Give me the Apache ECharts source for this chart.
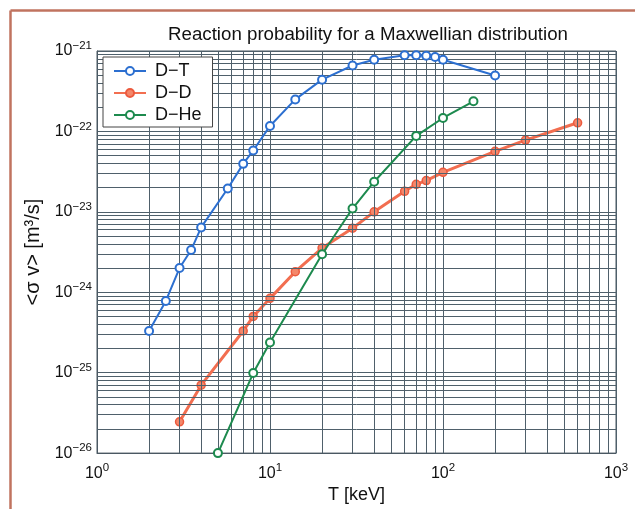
<!DOCTYPE html>
<html><head><meta charset="utf-8">
<script src="https://cdn.jsdelivr.net/npm/echarts@6/dist/echarts.min.js"></script>
<style>html,body{margin:0;padding:0;background:#fff}#c{width:635px;height:509px}</style>
</head><body><div id="c"></div>
<script>
// ---- data ----
const dtT = [2, 2.5, 3, 3.5, 4, 5.7, 7, 8, 10, 14, 20, 30, 40, 60, 70, 80, 90, 100, 200];
const dtV = [3.3e-25, 7.8e-25, 2.0e-24, 3.35e-24, 6.4e-24, 1.95e-23, 3.95e-23, 5.8e-23, 1.17e-22, 2.5e-22, 4.4e-22, 6.6e-22, 7.8e-22, 8.85e-22, 8.85e-22, 8.75e-22, 8.4e-22, 7.8e-22, 4.95e-22];
const ddT = [3, 4, 7, 8, 10, 14, 20, 30, 40, 60, 70, 80, 100, 200, 300, 600];
const ddV = [2.45e-26, 7.0e-26, 3.3e-25, 5.0e-25, 8.4e-25, 1.8e-24, 3.55e-24, 6.25e-24, 1.0e-23, 1.8e-23, 2.2e-23, 2.45e-23, 3.1e-23, 5.65e-23, 7.8e-23, 1.28e-22];
const dheT = [5, 8, 10, 20, 30, 40, 70, 100, 150];
const dheV = [1.0e-26, 9.9e-26, 2.37e-25, 2.97e-24, 1.1e-23, 2.37e-23, 8.8e-23, 1.47e-22, 2.37e-22];
const seriesNames = ['D\u2212T', 'D\u2212D', 'D\u2212He'];
const xMin = 1, xMax = 1000, yMinExp = -26, yMaxExp = -21;
const titleText = 'Reaction probability for a Maxwellian distribution';
const xName = 'T [keV]';
const yName = '<\u03c3 v> [m\u00b3/s]';

// The y axis is plotted in units of 10^-26 m^3/s (ECharts rounds tiny values to 0)
const yUnitExp = yMinExp;
const toUnit = v => v * Math.pow(10, -yUnitExp);

// minor grid values (2..9 in every decade)
const minorX = [];
for (let d = 0; d < 3; d++) for (let k = 2; k <= 9; k++) minorX.push(k * Math.pow(10, d));
const minorY = [];
for (let d = 0; d < yMaxExp - yMinExp; d++) for (let k = 2; k <= 9; k++) minorY.push(k * Math.pow(10, d));

const zip = (a, b) => a.map((v, i) => [v, toUnit(b[i])]);
const gridColor = '#4f606b';

function expLabelOff(off) {
  return function (v) {
    const e = Math.round(Math.log10(v)) + off;
    return '{b|10}{s|' + (e < 0 ? '\u2212' + (-e) : e) + '}';
  };
}
const richLab = {
  b: { fontSize: 16, lineHeight: 22, color: '#111', fontFamily: 'Liberation Sans' },
  s: { fontSize: 11.5, lineHeight: 11, verticalAlign: 'top', color: '#111', fontFamily: 'Liberation Sans' }
};

const chart = echarts.init(document.getElementById('c'), null, { renderer: 'canvas' });
chart.setOption({
  animation: false,
  backgroundColor: '#fff',
  textStyle: { fontFamily: 'Liberation Sans' },
  title: {
    text: titleText, left: 363, top: 20, textAlign: 'center',
    textStyle: { fontSize: 18.7, fontWeight: 'normal', color: '#111' }
  },
  grid: { left: 97, top: 51, right: 19, bottom: 48, show: true, borderColor: '#4a5862', borderWidth: 1 },
  legend: {
    data: seriesNames, orient: 'vertical', left: 103, top: 57, z: 30,
    padding: [5, 11, 3, 10], itemGap: 4, itemWidth: 32, itemHeight: 10,
    backgroundColor: '#fff', borderColor: '#444', borderWidth: 1,
    textStyle: { fontSize: 18, color: '#111', lineHeight: 18, padding: [0, 0, 0, 4] }
  },
  xAxis: {
    type: 'log', logBase: 10, min: xMin, max: xMax,
    name: xName, nameLocation: 'middle', nameGap: 30,
    nameTextStyle: { fontSize: 18, color: '#111' },
    axisLine: { show: true, lineStyle: { color: '#4a5862' } },
    axisTick: { show: false },
    axisLabel: { margin: 9, formatter: expLabelOff(0), rich: richLab },
    splitLine: { show: true, lineStyle: { color: gridColor, width: 1 } }
  },
  yAxis: {
    type: 'log', logBase: 10, min: 1, max: Math.pow(10, yMaxExp - yMinExp),
    name: yName, nameLocation: 'middle', nameGap: 52, nameRotate: 90,
    nameTextStyle: { fontSize: 20, color: '#111' },
    axisLine: { show: true, lineStyle: { color: '#4a5862' } },
    axisTick: { show: false },
    axisLabel: { margin: 5, formatter: expLabelOff(yUnitExp), rich: richLab },
    splitLine: { show: true, lineStyle: { color: gridColor, width: 1 } }
  },
  series: [
    {
      type: 'line', name: seriesNames[1], data: zip(ddT, ddV), z: 4,
      symbol: 'circle', symbolSize: 8,
      lineStyle: { color: '#f26e50', width: 3 },
      itemStyle: { color: '#f4876a', borderColor: '#ec5a3e', borderWidth: 1.5 },
      markLine: {
        silent: true, symbol: 'none', animation: false,
        label: { show: false },
        lineStyle: { color: gridColor, width: 1, type: 'solid' },
        emphasis: { disabled: true },
        data: minorX.map(v => ({ xAxis: v })).concat(minorY.map(v => ({ yAxis: v })))
      }
    },
    {
      type: 'line', name: seriesNames[0], data: zip(dtT, dtV), z: 5,
      symbol: 'emptyCircle', symbolSize: 8,
      lineStyle: { color: '#2c6fd0', width: 2 },
      itemStyle: { color: '#2c6fd0', borderWidth: 1.6 }
    },
    {
      type: 'line', name: seriesNames[2], data: zip(dheT, dheV), z: 6,
      symbol: 'emptyCircle', symbolSize: 8,
      lineStyle: { color: '#1d8a4e', width: 2 },
      itemStyle: { color: '#1d8a4e', borderWidth: 1.6 }
    }
  ],
  graphic: [
    { type: 'line', shape: { x1: 10.5, y1: 10.5, x2: 10.5, y2: 509 }, style: { stroke: '#c0735f', lineWidth: 2.5 }, z: 100 },
    { type: 'line', shape: { x1: 10.5, y1: 10.5, x2: 635, y2: 10.5 }, style: { stroke: '#c0735f', lineWidth: 2.5 }, z: 100 }
  ]
});
</script>
</body></html>
